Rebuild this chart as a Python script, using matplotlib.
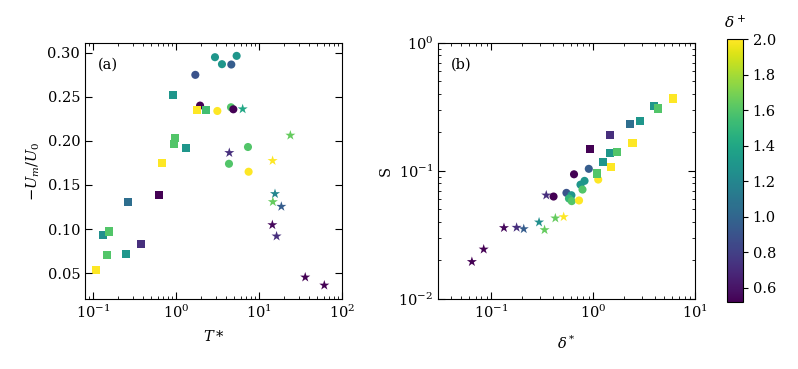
import numpy as np
import matplotlib.pyplot as plt
import matplotlib as mpl

plt.rcParams['font.family'] = 'DejaVu Serif'
plt.rcParams['mathtext.fontset'] = 'dejavuserif'
plt.rcParams['font.size'] = 10.5

# panel (a): T* vs -Um/U0
a_circ_x = [2.95, 3.58, 4.64, 5.38, 1.71, 1.95, 3.15, 4.6, 4.91, 7.37, 4.35, 7.5]
a_circ_y = [0.2947, 0.2868, 0.2864, 0.2962, 0.2747, 0.2399, 0.2338, 0.238, 0.2357, 0.193, 0.174, 0.165]
a_circ_c = [1.3, 1.3, 0.95, 1.3, 0.9, 0.52, 2.0, 1.6, 0.52, 1.6, 1.6, 2.0]

a_sq_x = [0.93, 1.79, 2.32, 0.98, 0.95, 1.33, 0.68, 0.624, 0.267, 0.132, 0.156, 0.149, 0.248, 0.375, 0.108]
a_sq_y = [0.252, 0.2346, 0.2353, 0.2032, 0.196, 0.1918, 0.1748, 0.1389, 0.1309, 0.0935, 0.0973, 0.0704, 0.0723, 0.0833, 0.0542]
a_sq_c = [1.3, 2.0, 1.55, 1.6, 1.6, 1.3, 2.0, 0.52, 1.05, 1.25, 1.6, 1.6, 1.3, 0.72, 2.0]

a_st_x = [6.36, 23.9, 4.39, 14.6, 15.6, 14.7, 18.6, 14.5, 16.3, 36.1, 61.3]
a_st_y = [0.236, 0.2062, 0.1865, 0.1775, 0.140, 0.1309, 0.1256, 0.1048, 0.092, 0.0455, 0.0364]
a_st_c = [1.4, 1.65, 0.72, 2.0, 1.2, 1.65, 0.95, 0.55, 0.72, 0.52, 0.52]

# panel (b): delta* vs S
b_circ_x = [0.648, 0.905, 0.408, 0.546, 0.611, 0.578, 0.615, 0.75, 0.822, 0.785, 0.726, 1.12]
b_circ_y = [0.094, 0.1037, 0.063, 0.0673, 0.0645, 0.0608, 0.058, 0.078, 0.0835, 0.0714, 0.0587, 0.0855]
b_circ_c = [0.52, 0.95, 0.52, 0.9, 1.3, 1.5, 1.6, 1.3, 1.3, 1.6, 2.0, 2.0]

b_sq_x = [6.1, 3.93, 4.3, 2.31, 2.88, 1.47, 2.43, 1.46, 1.71, 1.24, 1.49, 0.927, 1.10]
b_sq_y = [0.367, 0.32, 0.307, 0.231, 0.246, 0.191, 0.166, 0.138, 0.14, 0.118, 0.108, 0.1486, 0.0953]
b_sq_c = [2.0, 1.3, 1.6, 1.05, 1.3, 0.72, 2.0, 1.3, 1.6, 1.3, 2.0, 0.52, 1.6]

b_st_x = [0.0644, 0.0841, 0.133, 0.177, 0.208, 0.294, 0.333, 0.425, 0.513, 0.346]
b_st_y = [0.0195, 0.0244, 0.0359, 0.0361, 0.0352, 0.0397, 0.0346, 0.0427, 0.0437, 0.0645]
b_st_c = [0.52, 0.52, 0.55, 0.72, 0.95, 1.25, 1.65, 1.65, 2.0, 0.72]

vmin, vmax = 0.52, 2.0
cmap = 'viridis'

fig = plt.figure(figsize=(7.98, 3.69), dpi=100)
ax1 = fig.add_axes([0.1065, 0.19, 0.322, 0.694])
ax2 = fig.add_axes([0.549, 0.19, 0.322, 0.694])
cax = fig.add_axes([0.911, 0.182, 0.020, 0.711])

kw = dict(cmap=cmap, vmin=vmin, vmax=vmax, linewidths=0)
ax1.scatter(a_circ_x, a_circ_y, c=a_circ_c, marker='o', s=34, **kw)
ax1.scatter(a_sq_x, a_sq_y, c=a_sq_c, marker='s', s=34, **kw)
sc = ax1.scatter(a_st_x, a_st_y, c=a_st_c, marker='*', s=58, **kw)

ax2.scatter(b_circ_x, b_circ_y, c=b_circ_c, marker='o', s=34, **kw)
ax2.scatter(b_sq_x, b_sq_y, c=b_sq_c, marker='s', s=34, **kw)
ax2.scatter(b_st_x, b_st_y, c=b_st_c, marker='*', s=58, **kw)

ax1.set_xscale('log')
ax1.set_xlim(0.08, 100)
ax1.set_ylim(0.021, 0.311)
ax1.set_yticks([0.05, 0.10, 0.15, 0.20, 0.25, 0.30])
ax1.set_xlabel('$T*$', labelpad=6)
ax1.set_ylabel('$-U_m/U_0$')
ax1.text(0.05, 0.9, '(a)', transform=ax1.transAxes)

ax2.set_xscale('log')
ax2.set_yscale('log')
ax2.set_xlim(0.03, 10)
ax2.set_ylim(0.01, 1)
ax2.set_xlabel('$\\delta^*$', labelpad=10)
ax2.set_ylabel('S')
ax2.text(0.05, 0.9, '(b)', transform=ax2.transAxes)

for ax in (ax1, ax2):
    ax.tick_params(which='both', direction='in', top=True, right=True)
    ax.tick_params(which='major', length=5)
    ax.tick_params(which='minor', length=2.5)

cb = fig.colorbar(sc, cax=cax)
cb.set_ticks([0.6, 0.8, 1.0, 1.2, 1.4, 1.6, 1.8, 2.0])
cax.set_title('$\\delta^+$', fontsize=11, pad=8)

fig.savefig('out.png', dpi=100)
